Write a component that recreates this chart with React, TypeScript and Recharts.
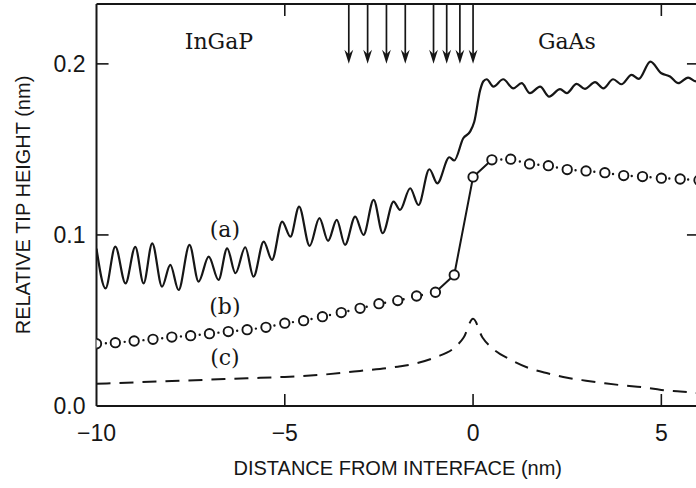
import { LineChart, Line, XAxis, YAxis, ReferenceLine, ReferenceDot } from 'recharts';

// tick values
const distanceTicks = [-10, -5, 0, 5];
const heightTicks = [0, 0.1, 0.2];
const innerTicksX = [-5, 0, 5];
const innerTicksTop = [-5, 5];
const innerTicksY = [0.1, 0.2];

// arrows marking the layers near the interface (nm)
const interfaceArrows = [-3.3, -2.8, -2.3, -1.8, -1.05, -0.7, -0.35, 0];

// (a) measured tip height, [distance, height]
const curveA: [number, number][] = [
    [-10, 0.092], [-9.76, 0.0688], [-9.5, 0.0932], [-9.23, 0.0717], [-8.97, 0.093], [-8.75, 0.0717],
    [-8.52, 0.0951], [-8.26, 0.0698], [-8.04, 0.0825], [-7.82, 0.0678], [-7.53, 0.0942], [-7.29, 0.0727],
    [-7.02, 0.0873], [-6.76, 0.0737], [-6.53, 0.0922], [-6.31, 0.0776], [-6.05, 0.0928], [-5.83, 0.0756],
    [-5.56, 0.0961], [-5.34, 0.0854], [-5.07, 0.1078], [-4.85, 0.099], [-4.62, 0.1166], [-4.34, 0.0936],
    [-4.08, 0.1098], [-3.85, 0.0965], [-3.62, 0.1088], [-3.4, 0.0942], [-3.13, 0.1107], [-2.91, 0.1],
    [-2.64, 0.1205], [-2.4, 0.101], [-2.11, 0.1195], [-1.94, 0.1146], [-1.67, 0.1273], [-1.45, 0.1175],
    [-1.16, 0.1384], [-0.95, 0.1302], [-0.63, 0.1454], [-0.5, 0.1435], [-0.26, 0.1565], [-0.08, 0.1604],
    [0.03, 0.166], [0.19, 0.1848], [0.27, 0.1897], [0.36, 0.191], [0.54, 0.1867], [0.8, 0.191],
    [1.07, 0.1857], [1.29, 0.1887], [1.51, 0.1829], [1.78, 0.1867], [2.02, 0.1809], [2.31, 0.1852],
    [2.49, 0.1829], [2.75, 0.1883], [2.97, 0.1854], [3.24, 0.1893], [3.46, 0.1857], [3.72, 0.191],
    [3.94, 0.1881], [4.21, 0.1936], [4.4, 0.1912], [4.71, 0.2013], [5.0, 0.1945], [5.23, 0.1926],
    [5.45, 0.1887], [5.71, 0.192], [5.93, 0.1897], [6.0, 0.19],
];

// (b) InGaP side and GaAs side
const curveBInGaP: [number, number][] = [
    [-10, 0.0364], [-9.5, 0.037], [-9, 0.038], [-8.5, 0.039], [-8, 0.0403], [-7.5, 0.0411],
    [-7, 0.0423], [-6.5, 0.0435], [-6, 0.0446], [-5.5, 0.046], [-5, 0.0484], [-4.5, 0.0499],
    [-4, 0.0522], [-3.5, 0.0546], [-3, 0.0571], [-2.5, 0.0598], [-2, 0.0616], [-1.5, 0.0643],
    [-1, 0.0665], [-0.5, 0.0766],
];
const curveBGaAs: [number, number][] = [
    [0, 0.1339], [0.5, 0.1439], [1, 0.1443], [1.5, 0.1415], [2, 0.1405], [2.5, 0.1382],
    [3, 0.1374], [3.5, 0.1364], [4, 0.1347], [4.5, 0.1341], [5, 0.1332], [5.5, 0.1327], [6, 0.132],
];

// (c) dashed
const curveC: [number, number][] = [
    [-10, 0.013], [-9, 0.0138], [-8, 0.0146], [-7, 0.0154], [-6, 0.0162], [-5, 0.017],
    [-4, 0.0183], [-3, 0.0205], [-2, 0.023], [-1.5, 0.025], [-1, 0.0285], [-0.5, 0.034],
    [-0.25, 0.04], [0, 0.051], [0.25, 0.04], [0.5, 0.034], [1, 0.027], [1.5, 0.022],
    [2, 0.019], [2.5, 0.0165], [3, 0.0148], [3.5, 0.0133], [4, 0.012], [4.5, 0.011],
    [5, 0.0094], [5.5, 0.0085], [6, 0.0075],
];

const toPoints = (pairs: [number, number][]) => pairs.map(([x, y]) => ({ x, y }));

const INK = '#161616';
const SANS = '"Liberation Sans", Arial, sans-serif';
const SERIF = '"DejaVu Serif", "Liberation Serif", serif';

const X_MIN = -10;
const X_MAX = 6;
const Y_MAX = 0.235;

const labels = [
    { text: 'InGaP', x: -6.75, y: 0.2135 },
    { text: 'GaAs', x: 2.49, y: 0.2135 },
    { text: '(a)', x: -6.59, y: 0.1035 },
    { text: '(b)', x: -6.59, y: 0.0585 },
    { text: '(c)', x: -6.59, y: 0.0283 },
];

const formatDistance = (v: number) => (v < 0 ? `\u2212${Math.abs(v)}` : `${v}`);

const Arrow = (p: any) => {
    const { x1, y1, x2, y2 } = p;
    return (
        <g>
            <line x1={x1} y1={y1} x2={x2} y2={y2 - 6} stroke={INK} strokeWidth={1.7} />
            <path d={`M${x2},${y2} L${x2 - 4.4},${y2 - 14} L${x2},${y2 - 9.5} L${x2 + 4.4},${y2 - 14} Z`} fill={INK} />
        </g>
    );
};

export default function App() {
    const a = toPoints(curveA);
    const bLeft = toPoints(curveBInGaP.slice(0, -1));
    const bRight = toPoints(curveBGaAs.slice(1));
    const bLink = toPoints([...curveBInGaP.slice(-2), ...curveBGaAs.slice(0, 2)]);
    const bAll = toPoints([...curveBInGaP, ...curveBGaAs]);
    const c = toPoints(curveC);

    const tickLen = { x: 0.32, y: 0.007 };

    return (
        <div style={{ position: 'absolute', left: 0, top: 0, width: 696, height: 488, overflow: 'hidden', background: '#fff' }}>
            <LineChart width={720} height={488} margin={{ top: 4, right: 21, left: 10, bottom: 0 }}>
                <XAxis
                    dataKey="x"
                    type="number"
                    domain={[X_MIN, X_MAX]}
                    ticks={distanceTicks}
                    tickFormatter={formatDistance}
                    allowDataOverflow
                    height={82}
                    tickLine={false}
                    tickSize={10}
                    tickMargin={9}
                    axisLine={{ stroke: INK, strokeWidth: 2 }}
                    tick={{ fill: INK, fontSize: 23, fontFamily: SANS }}
                    label={{ value: 'DISTANCE FROM INTERFACE (nm)', position: 'insideBottom', offset: 13, fill: INK, fontSize: 20, fontFamily: SANS }}
                />
                <YAxis
                    dataKey="y"
                    type="number"
                    domain={[0, Y_MAX]}
                    ticks={heightTicks}
                    tickFormatter={(v: number) => v.toFixed(1)}
                    allowDataOverflow
                    width={86.5}
                    tickLine={false}
                    tickSize={6}
                    tickMargin={5}
                    axisLine={{ stroke: INK, strokeWidth: 2 }}
                    tick={{ fill: INK, fontSize: 23, fontFamily: SANS }}
                    label={{ value: 'RELATIVE TIP HEIGHT (nm)', angle: -90, position: 'insideLeft', offset: 13, fill: INK, fontSize: 20, fontFamily: SANS, style: { textAnchor: 'middle' } }}
                />

                {/* frame */}
                <ReferenceLine y={Y_MAX} stroke={INK} strokeWidth={2} />
                <ReferenceLine x={X_MAX} stroke={INK} strokeWidth={2} />

                {/* inward ticks */}
                {innerTicksX.map((t) => (
                    <ReferenceLine key={`b${t}`} segment={[{ x: t, y: 0 }, { x: t, y: tickLen.y }]} stroke={INK} strokeWidth={1.6} />
                ))}
                {innerTicksTop.map((t) => (
                    <ReferenceLine key={`t${t}`} segment={[{ x: t, y: Y_MAX }, { x: t, y: Y_MAX - tickLen.y }]} stroke={INK} strokeWidth={1.6} />
                ))}
                {innerTicksY.map((t) => (
                    <ReferenceLine key={`l${t}`} segment={[{ x: X_MIN, y: t }, { x: X_MIN + tickLen.x, y: t }]} stroke={INK} strokeWidth={1.6} />
                ))}
                {innerTicksY.map((t) => (
                    <ReferenceLine key={`r${t}`} segment={[{ x: X_MAX, y: t }, { x: X_MAX - tickLen.x, y: t }]} stroke={INK} strokeWidth={1.6} />
                ))}

                {/* arrows at the top */}
                {interfaceArrows.map((t) => (
                    <ReferenceLine key={`arr${t}`} segment={[{ x: t, y: Y_MAX }, { x: t, y: 0.2 }]} shape={Arrow} />
                ))}

                <Line data={c} dataKey="y" type="monotone" stroke={INK} strokeWidth={2} strokeDasharray="14 9" dot={false} isAnimationActive={false} />
                <Line data={a} dataKey="y" type="monotone" stroke={INK} strokeWidth={2.2} dot={false} isAnimationActive={false} />
                <Line data={bLeft} dataKey="y" type="linear" stroke={INK} strokeWidth={2.4} strokeLinecap="round" strokeDasharray="0 9.42" dot={false} isAnimationActive={false} />
                <Line data={bRight} dataKey="y" type="linear" stroke={INK} strokeWidth={2.4} strokeLinecap="round" strokeDasharray="0 9.42" dot={false} isAnimationActive={false} />
                <Line data={bLink} dataKey="y" type="linear" stroke={INK} strokeWidth={2} dot={false} isAnimationActive={false} />
                <Line
                    data={bAll}
                    dataKey="y"
                    type="linear"
                    stroke="none"
                    dot={{ r: 4.7, fill: '#fff', stroke: INK, strokeWidth: 1.9 }}
                    isAnimationActive={false}
                />

                {labels.map((l) => (
                    <ReferenceDot
                        key={l.text}
                        x={l.x}
                        y={l.y}
                        r={0}
                        fill="none"
                        stroke="none"
                        label={{ value: l.text, position: 'center', fill: INK, fontSize: 22, fontFamily: SERIF }}
                    />
                ))}
            </LineChart>
        </div>
    );
}
